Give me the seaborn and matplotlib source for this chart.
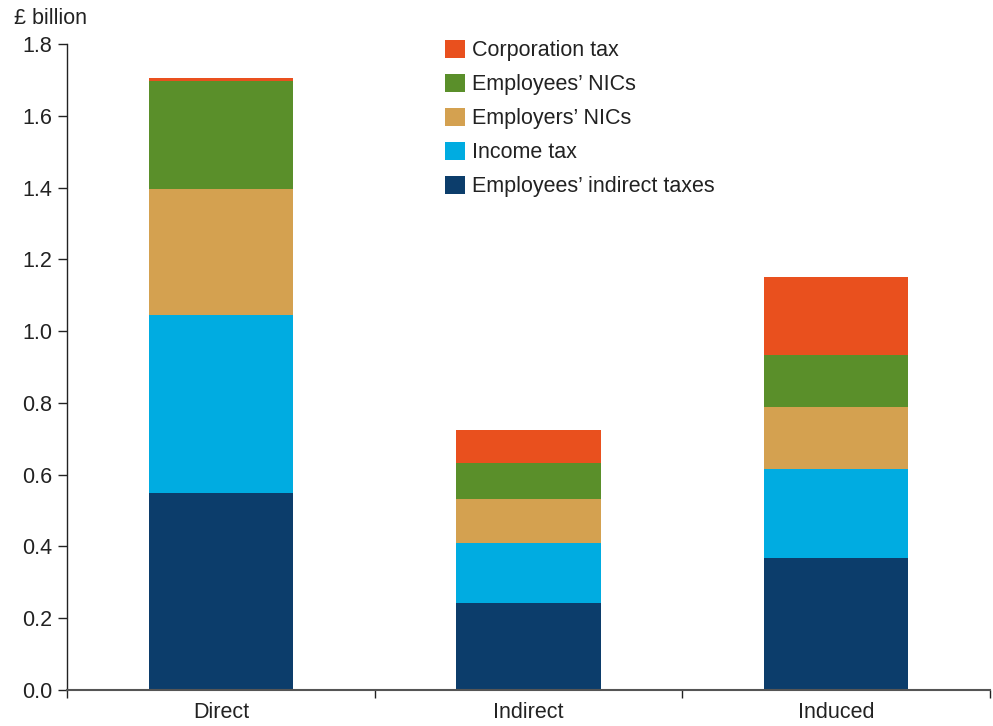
import matplotlib
matplotlib.use("Agg")
import matplotlib.pyplot as plt
import seaborn as sns
import pandas as pd
import numpy as np
from matplotlib.patches import Patch

categories = ["Direct", "Indirect", "Induced"]
series_names = ["Employees\u2019 indirect taxes", "Income tax", "Employers\u2019 NICs",
                "Employees\u2019 NICs", "Corporation tax"]
indirect_taxes = [0.55, 0.242, 0.368]
income_tax = [0.495, 0.168, 0.248]
employers_nics = [0.351, 0.122, 0.173]
employees_nics = [0.301, 0.100, 0.144]
corporation_tax = [0.008, 0.092, 0.218]
colors = ["#0C3D6B", "#00ACE1", "#D4A150", "#5A8F2A", "#E9501E"]
yticks = [0.0, 0.2, 0.4, 0.6, 0.8, 1.0, 1.2, 1.4, 1.6, 1.8]

sns.set_style("white")
plt.rcParams["font.family"] = ["Liberation Sans", "DejaVu Sans"]

values = [indirect_taxes, income_tax, employers_nics, employees_nics, corporation_tax]
cum = np.cumsum(np.array(values), axis=0)

fig = plt.figure(figsize=(9.93, 7.26), dpi=100)
ax = fig.add_axes([67/993, 1 - 690/726, 923/993, (690-44)/726])

# draw cumulative bars from top layer down so they stack visually
for i in range(len(values) - 1, -1, -1):
    df = pd.DataFrame({"cat": categories, "val": cum[i]})
    sns.barplot(data=df, x="cat", y="val", color=colors[i], width=0.47,
                saturation=1, ax=ax, linewidth=0, edgecolor="none")

FS = 15.5
ax.set_xlim(-0.5, 2.5)
ax.set_ylim(0, 1.8)
ax.set_yticks(yticks)
ax.set_yticklabels([f"{v:.1f}" for v in yticks])
ax.set_xlabel("")
ax.set_ylabel("")
for s in ["top", "right"]:
    ax.spines[s].set_visible(False)
ax.spines["left"].set_color("#222222")
ax.spines["left"].set_linewidth(1.0)
ax.spines["bottom"].set_color("#555555")
ax.spines["bottom"].set_linewidth(1.5)
ax.tick_params(axis="y", which="major", left=True, length=6.5, width=1.0,
               color="#222222", pad=4, labelsize=FS, labelcolor="#222222")
ax.tick_params(axis="x", which="major", length=0, pad=9, labelsize=FS,
               labelcolor="#222222")
ax.set_xticks([-0.5, 0.5, 1.5, 2.5], minor=True)
ax.tick_params(axis="x", which="minor", bottom=True, length=6, width=1.0,
               color="#222222")

fig.text(14/993, 1 - 18/726, "\u00a3 billion", fontsize=FS, color="#222222",
         ha="left", va="center")

handles = [Patch(facecolor=colors[i], edgecolor="none", label=series_names[i])
           for i in range(len(values) - 1, -1, -1)]
ax.legend(handles=handles, loc="upper left", bbox_to_anchor=(445/993, 1 - 39.5/726),
          bbox_transform=fig.transFigure, frameon=False, fontsize=FS,
          handlelength=0.93, handleheight=0.93, handletextpad=0.33,
          labelspacing=0.58, borderaxespad=0, borderpad=0, labelcolor="#222222")

fig.savefig("out.png", dpi=100)
